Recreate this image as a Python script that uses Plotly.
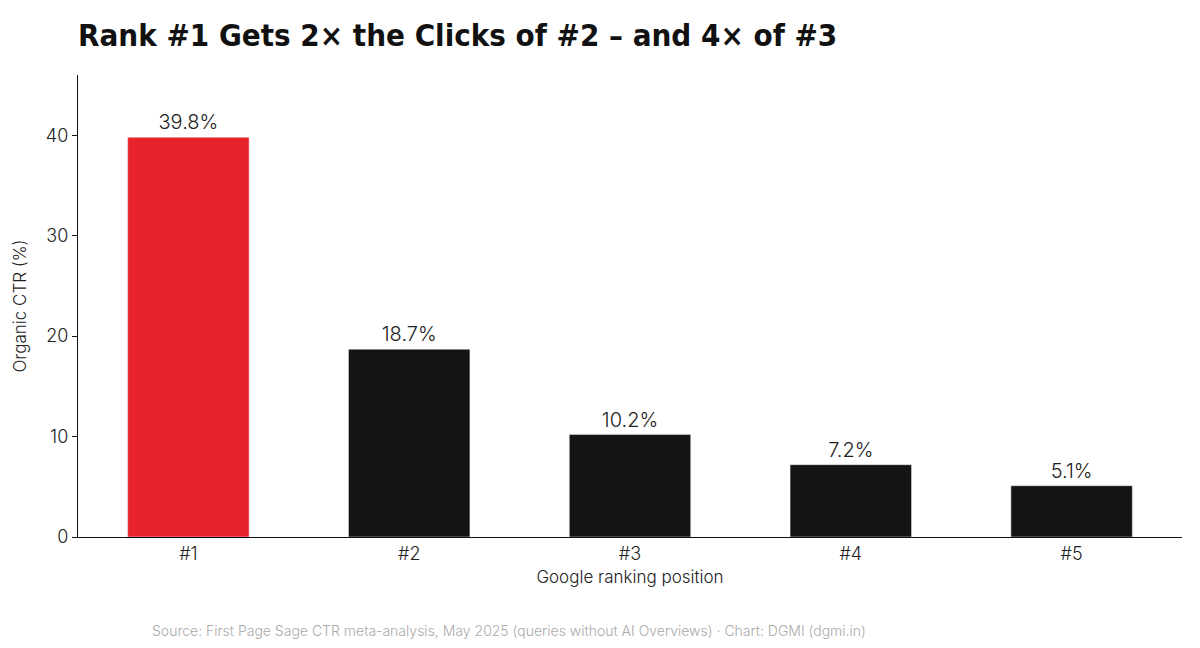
import plotly.graph_objects as go

positions = ["#1", "#2", "#3", "#4", "#5"]
ctr = [39.8, 18.7, 10.2, 7.2, 5.1]
colors = ["#e8222b", "#141414", "#141414", "#141414", "#141414"]
labels = [f"{v}%" for v in ctr]

W, H = 1184, 632
fig = go.Figure(go.Bar(
    x=positions, y=ctr, marker_color=colors, width=0.55,
    text=labels, textposition="outside",
    textfont=dict(size=20, color="#222", family="Inter", weight=300),
    cliponaxis=False,
))
fig.update_layout(
    width=W, height=H,
    paper_bgcolor="white", plot_bgcolor="white",
    margin=dict(l=70, r=10, t=67, b=103),
    font=dict(family="Inter", color="#222", size=16, weight=300),
    title=dict(text="<b>Rank #1 Gets 2× the Clicks of #2 – and 4× of #3</b>",
               x=70/W, xanchor="left", y=1-27/H, yanchor="middle",
               font=dict(family="DejaVu Sans Condensed", size=31, color="#111")),
    showlegend=False,
)
fig.update_xaxes(title=dict(text="Google ranking position", font=dict(size=17, weight=300), standoff=8),
                 showline=True, linecolor="#111", linewidth=1.2,
                 tickfont=dict(size=18, weight=300), ticks="")
fig.update_yaxes(title=dict(text="Organic CTR (%)", font=dict(size=17, weight=300), standoff=14),
                 range=[0, 46], tickvals=[0, 10, 20, 30, 40],
                 showline=True, linecolor="#111", linewidth=1.2,
                 showgrid=False, zeroline=False, ticks="outside", ticklen=5,
                 tickcolor="#111", tickfont=dict(size=18, weight=300))
fig.add_annotation(text="Source: First Page Sage CTR meta-analysis, May 2025 (queries without AI Overviews) · Chart: DGMI (dgmi.in)",
                   xref="paper", yref="paper", x=(142-70)/1104, y=-(622-529)/462,
                   xanchor="left", yanchor="middle", showarrow=False,
                   font=dict(size=14, color="#aaa", weight=300))
fig.write_html("out.html")
